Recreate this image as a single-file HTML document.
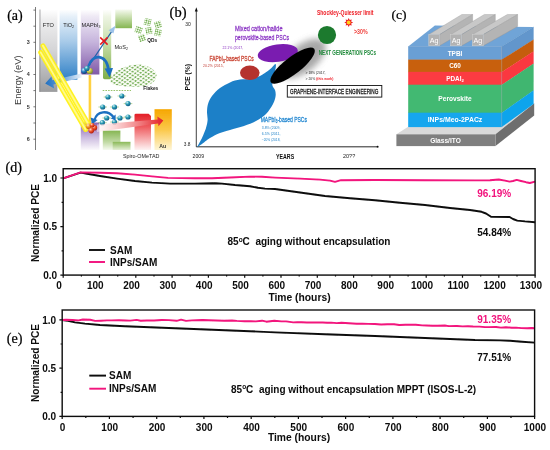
<!DOCTYPE html>
<html lang="en"><head><meta charset="utf-8"><title>Figure</title>
<style>
html,body{margin:0;padding:0;background:#fff;}
body{width:550px;height:450px;overflow:hidden;}
svg{display:block;}
text{font-family:"Liberation Sans",sans-serif;}
.ser{stroke:#000;stroke-width:0.22px;}
.ser{font-family:"Liberation Serif",serif;}
.b{font-weight:bold;}
</style></head><body>
<svg width="550" height="450" viewBox="0 0 550 450">
<defs>
<linearGradient id="gFTO" x1="0" y1="0" x2="0" y2="1"><stop offset="0" stop-color="#ffffff"/><stop offset="0.12" stop-color="#efeff0"/><stop offset="0.5" stop-color="#d4d4d6"/><stop offset="1" stop-color="#9b9c9e"/></linearGradient>
<linearGradient id="gTiO" x1="0" y1="0" x2="0" y2="1"><stop offset="0" stop-color="#ffffff"/><stop offset="0.1" stop-color="#e6f0f9"/><stop offset="0.45" stop-color="#a9cbe9"/><stop offset="1" stop-color="#2f80c6"/></linearGradient>
<linearGradient id="gMA" x1="0" y1="0" x2="0" y2="1"><stop offset="0" stop-color="#ffffff"/><stop offset="0.1" stop-color="#efeaf5"/><stop offset="0.5" stop-color="#c6b4dc"/><stop offset="1" stop-color="#8059a8"/></linearGradient>
<linearGradient id="gMA2" x1="0" y1="0" x2="0" y2="1"><stop offset="0" stop-color="#8a62b2"/><stop offset="0.55" stop-color="#cdbde0"/><stop offset="1" stop-color="#fcfafd"/></linearGradient>
<linearGradient id="gMo" x1="0" y1="0" x2="0" y2="1"><stop offset="0" stop-color="#ffffff"/><stop offset="0.1" stop-color="#eef5e4"/><stop offset="0.5" stop-color="#c4dca6"/><stop offset="1" stop-color="#7fae48"/></linearGradient>
<linearGradient id="gMo2" x1="0" y1="0" x2="0" y2="1"><stop offset="0" stop-color="#f6faf0"/><stop offset="0.3" stop-color="#d4e6be"/><stop offset="1" stop-color="#86b652"/></linearGradient>
<linearGradient id="gGr" x1="0" y1="0" x2="0" y2="1"><stop offset="0" stop-color="#86b653"/><stop offset="0.6" stop-color="#c2dba6"/><stop offset="1" stop-color="#f6faf0"/></linearGradient>
<linearGradient id="gGr2" x1="0" y1="0" x2="0" y2="1"><stop offset="0" stop-color="#8ab957"/><stop offset="1" stop-color="#e6f0d8"/></linearGradient>
<linearGradient id="gRed" x1="0" y1="0" x2="0" y2="1"><stop offset="0" stop-color="#e31f26"/><stop offset="0.35" stop-color="#ee5a5e"/><stop offset="1" stop-color="#fef4f4"/></linearGradient>
<linearGradient id="gAu" x1="0" y1="0" x2="0" y2="1"><stop offset="0" stop-color="#f6a600"/><stop offset="0.5" stop-color="#fbc84a"/><stop offset="1" stop-color="#fef6d8"/></linearGradient>
<linearGradient id="gBlueArr" x1="1" y1="0" x2="0" y2="0"><stop offset="0" stop-color="#eef4fb"/><stop offset="0.5" stop-color="#6ea6dc"/><stop offset="1" stop-color="#1f6fc0"/></linearGradient>
<linearGradient id="gRedArr" x1="0" y1="0" x2="1" y2="0"><stop offset="0" stop-color="#fff6f6" stop-opacity="0.5"/><stop offset="0.5" stop-color="#f5a3a5"/><stop offset="1" stop-color="#e31f26"/></linearGradient>
<radialGradient id="sTeal" cx="0.35" cy="0.3" r="0.7"><stop offset="0" stop-color="#d8f3f6"/><stop offset="0.45" stop-color="#2fa0b8"/><stop offset="1" stop-color="#0f5d86"/></radialGradient>
<radialGradient id="sBlue" cx="0.35" cy="0.3" r="0.7"><stop offset="0" stop-color="#cfe6fa"/><stop offset="0.5" stop-color="#2a7fc4"/><stop offset="1" stop-color="#123f7a"/></radialGradient>
<radialGradient id="sYel" cx="0.35" cy="0.3" r="0.7"><stop offset="0" stop-color="#fbf8c8"/><stop offset="0.5" stop-color="#c9c64a"/><stop offset="1" stop-color="#7c8a2a"/></radialGradient>
<radialGradient id="sRed" cx="0.35" cy="0.3" r="0.7"><stop offset="0" stop-color="#ffd6c2"/><stop offset="0.5" stop-color="#f0532a"/><stop offset="1" stop-color="#b11f12"/></radialGradient>
<radialGradient id="sOr" cx="0.35" cy="0.3" r="0.7"><stop offset="0" stop-color="#ffe9c0"/><stop offset="0.5" stop-color="#f59a2a"/><stop offset="1" stop-color="#c5560f"/></radialGradient>
<filter id="blur3" x="-50%" y="-50%" width="200%" height="200%"><feGaussianBlur stdDeviation="3.2"/></filter>
<filter id="soft2" x="-2%" y="-5%" width="104%" height="110%"><feGaussianBlur stdDeviation="0.3"/></filter>
<filter id="soft" x="-5%" y="-5%" width="110%" height="110%"><feGaussianBlur stdDeviation="0.35"/></filter>
<pattern id="lat" width="3.2" height="3.2" patternUnits="userSpaceOnUse" patternTransform="rotate(32) skewX(-18)"><rect width="3.2" height="3.2" fill="#fafcf6"/><path d="M0 0H3.2M0 0V3.2" stroke="#9cc67c" stroke-width="0.6"/><circle cx="0" cy="0" r="0.78" fill="#5ba03c"/><circle cx="3.2" cy="3.2" r="0.78" fill="#5ba03c"/><circle cx="3.2" cy="0" r="0.78" fill="#5ba03c"/><circle cx="0" cy="3.2" r="0.78" fill="#5ba03c"/></pattern>
<pattern id="qd" width="2.2" height="2.2" patternUnits="userSpaceOnUse"><rect width="2.2" height="2.2" fill="#f3f9ec"/><path d="M1.1 0V2.2M0 1.1H2.2" stroke="#93c274" stroke-width="0.6"/><circle cx="1.1" cy="1.1" r="0.55" fill="#5ba03c"/></pattern>
</defs>
<rect width="550" height="450" fill="#ffffff"/>

<g id="panel-a" filter="url(#soft)">
<rect x="39.2" y="9.5" width="18.2" height="82.4" fill="url(#gFTO)"/>
<rect x="39.2" y="9.5" width="1.5" height="82.4" fill="#8d8e90" opacity="0.5"/>
<rect x="59.6" y="9.5" width="17.8" height="70.2" fill="url(#gTiO)"/>
<rect x="80.8" y="9.5" width="18.6" height="65" fill="url(#gMA)"/>
<rect x="80.8" y="122.5" width="18.6" height="27.5" fill="url(#gMA2)"/>
<path d="M103 9.5H111.2V77.6Q111.2 79.2 109.6 79.2H104.6Q103 79.2 103 77.6Z" fill="url(#gMo)"/>
<rect x="115.3" y="9.5" width="16.7" height="18.7" fill="url(#gMo2)"/>
<rect x="102.8" y="130.6" width="17.6" height="19.4" fill="url(#gGr)"/>
<rect x="112.7" y="141.8" width="17.8" height="8.2" fill="url(#gGr2)"/>
<path d="M134.5 115Q134.5 113.8 135.8 113.8H148.6L151 116V150H134.5Z" fill="url(#gRed)"/>
<rect x="154.5" y="109.2" width="17.3" height="40.8" fill="url(#gAu)"/>
<rect x="88.2" y="75" width="3.4" height="50" fill="#ffe9a0" opacity="0.7"/>
<rect x="88.9" y="75" width="2" height="50" fill="#ffcf3a"/>
<path d="M35.5 7V150" stroke="#444" stroke-width="0.7" fill="none"/>
<path d="M33.4 10.1H35.5" stroke="#444" stroke-width="0.7"/>
<path d="M33.4 26.2H35.5" stroke="#444" stroke-width="0.7"/>
<path d="M33.4 42.3H35.5" stroke="#444" stroke-width="0.7"/>
<path d="M33.4 58.4H35.5" stroke="#444" stroke-width="0.7"/>
<path d="M33.4 74.5H35.5" stroke="#444" stroke-width="0.7"/>
<path d="M33.4 90.6H35.5" stroke="#444" stroke-width="0.7"/>
<path d="M33.4 106.8H35.5" stroke="#444" stroke-width="0.7"/>
<path d="M33.4 123H35.5" stroke="#444" stroke-width="0.7"/>
<path d="M33.4 139.2H35.5" stroke="#444" stroke-width="0.7"/>
<text x="28.3" y="44.199999999999996" font-size="5.4" class="b" text-anchor="middle" fill="#333">3</text>
<text x="28.3" y="76.4" font-size="5.4" class="b" text-anchor="middle" fill="#333">4</text>
<text x="28.3" y="108.7" font-size="5.4" class="b" text-anchor="middle" fill="#333">5</text>
<text x="28.3" y="141.1" font-size="5.4" class="b" text-anchor="middle" fill="#333">6</text>
<text transform="translate(20.6 80.2) rotate(-90)" font-size="8.2" text-anchor="middle" fill="#3a3a3a" textLength="49.5" lengthAdjust="spacingAndGlyphs">Energy (eV)</text>
<text x="48.4" y="26.6" font-size="5.6" text-anchor="middle" fill="#222">FTO</text>
<text x="68.6" y="26.6" font-size="5.6" text-anchor="middle" fill="#222">TiO<tspan font-size="3.6" dy="1.2">2</tspan></text>
<text x="91" y="26.6" font-size="5.6" text-anchor="middle" fill="#222">MAPbI<tspan font-size="3.6" dy="1.2">3</tspan></text>
<text x="121.2" y="48.6" font-size="5.6" text-anchor="middle" fill="#222">MoS<tspan font-size="3.6" dy="1.2">2</tspan></text>
<text x="162.8" y="148.4" font-size="5.2" class="b" text-anchor="middle" fill="#333">Au</text>
<text x="141.2" y="158" font-size="5.8" text-anchor="middle" fill="#222" textLength="36.5" lengthAdjust="spacingAndGlyphs">Spiro-OMeTAD</text>
<path d="M81.5 73.4L81.8 77.6L53.4 84.4L54.2 88.4L45.2 83.4L51.4 76.4L52.2 80.2Z" fill="url(#gBlueArr)"/>
<path d="M42.9 45.8L90.6 128" stroke="#fff21a" stroke-width="5" stroke-linecap="round" opacity="0.95"/>
<path d="M40.7 52.4L85.6 129.5" stroke="#fff21a" stroke-width="5" stroke-linecap="round" opacity="0.95"/>
<path d="M42.9 45.8L90.6 128" stroke="#fff98c" stroke-width="1.8" stroke-linecap="round"/>
<path d="M40.7 52.4L85.6 129.5" stroke="#fff98c" stroke-width="1.8" stroke-linecap="round"/>
<path d="M86 70L112 31" stroke="#1f5fa8" stroke-width="1.3"/>
<path d="M115.5 25.8L108.6 30.2L113.4 33.4Z" fill="#9cc3ea"/>
<path d="M100.2 37.4L107.6 44.6M107.6 37.4L100.2 44.6" stroke="#e8161c" stroke-width="1.5"/>
<path d="M88.6 66C92 54 106 53 108.6 70" stroke="#1f6fc0" stroke-width="2.7" fill="none"/>
<path d="M104.6 68.6L113 68L109.6 77.4Z" fill="#1f6fc0"/>
<circle cx="84.2" cy="70.8" r="3.1" fill="url(#sBlue)"/><circle cx="89.8" cy="71" r="3.1" fill="url(#sYel)"/><circle cx="87" cy="68.4" r="2.6" fill="url(#sTeal)"/>
<path d="M102.7 90.5H131" stroke="#8dbb5a" stroke-width="0.9" stroke-dasharray="1.6 1.1"/>
<path d="M103.7 97H112.3" stroke="#8dbb5a" stroke-width="0.6"/><circle cx="108" cy="97" r="2.6" fill="url(#sTeal)"/>
<path d="M117.5 96H126.1" stroke="#8dbb5a" stroke-width="0.6"/><circle cx="121.8" cy="96" r="2.6" fill="url(#sTeal)"/>
<path d="M98.4 107H107.0" stroke="#8dbb5a" stroke-width="0.6"/><circle cx="102.7" cy="107" r="2.6" fill="url(#sTeal)"/>
<path d="M110.2 107H118.8" stroke="#8dbb5a" stroke-width="0.6"/><circle cx="114.5" cy="107" r="2.6" fill="url(#sTeal)"/>
<path d="M123.7 103.6H132.3" stroke="#8dbb5a" stroke-width="0.6"/><circle cx="128" cy="103.6" r="2.6" fill="url(#sTeal)"/>
<path d="M102.4 118H111.0" stroke="#8dbb5a" stroke-width="0.6"/><circle cx="106.7" cy="118" r="2.6" fill="url(#sTeal)"/>
<path d="M115.7 118H124.3" stroke="#8dbb5a" stroke-width="0.6"/><circle cx="120" cy="118" r="2.6" fill="url(#sTeal)"/>
<path d="M123.7 117H132.3" stroke="#8dbb5a" stroke-width="0.6"/><circle cx="128" cy="117" r="2.6" fill="url(#sTeal)"/>
<path d="M98.10000000000001 122.7H106.7" stroke="#8dbb5a" stroke-width="0.6"/><circle cx="102.4" cy="122.7" r="2.6" fill="url(#sTeal)"/>
<path d="M110.2 122H118.8" stroke="#8dbb5a" stroke-width="0.6"/><circle cx="114.5" cy="122" r="2.6" fill="url(#sTeal)"/>
<path d="M94.5 120C97 110.5 108 110 113.5 117" stroke="#1f6fc0" stroke-width="2.3" fill="none"/>
<path d="M90.6 117.6L92 124.6L97.6 120Z" fill="#1f6fc0"/><path d="M110.8 118.6L115.6 114.4L115.6 120.6Z" fill="#1f6fc0"/>
<path d="M97 124.5L157.6 119.4L157.3 116.4L163.3 120.6L158.5 126.2L158.1 123.4L97 132Z" fill="url(#gRedArr)"/>
<circle cx="88.7" cy="126.2" r="2.8" fill="url(#sOr)"/><circle cx="94.4" cy="127.8" r="2.8" fill="url(#sRed)"/><circle cx="91.3" cy="130.6" r="2.8" fill="url(#sRed)"/><circle cx="92.2" cy="125.2" r="2.3" fill="url(#sRed)"/>
<path d="M110.4 80.4C110.8 76 116 71 122 68C128 65.2 136 63.6 142 64.8C149 66.2 156 70 156.5 75C157 80 152 84.4 146 85.8C138 87.4 125 87 118 85.6C113 84.6 110 83.4 110.4 80.4Z" fill="url(#lat)"/>
<text x="150.8" y="89.9" font-size="4.8" class="b" text-anchor="middle" fill="#222">Flakes</text>
<rect x="144.29999999999998" y="18.7" width="6.6" height="6.6" fill="url(#qd)" transform="rotate(14 147.6 22)"/>
<rect x="154.7" y="21.3" width="6.6" height="6.6" fill="url(#qd)" transform="rotate(-18 158 24.6)"/>
<rect x="135.29999999999998" y="26.7" width="6.6" height="6.6" fill="url(#qd)" transform="rotate(20 138.6 30)"/>
<rect x="145.7" y="27.3" width="6.6" height="6.6" fill="url(#qd)" transform="rotate(-12 149 30.6)"/>
<rect x="154.7" y="29.3" width="6.6" height="6.6" fill="url(#qd)" transform="rotate(12 158 32.6)"/>
<rect x="138.7" y="34.7" width="6.6" height="6.6" fill="url(#qd)" transform="rotate(-20 142 38)"/>
<text x="152.2" y="41.8" font-size="4.8" class="b" text-anchor="middle" fill="#222">QDs</text>
</g>
<text class="ser" x="7.2" y="19.6" font-size="14">(a)</text>
<g id="panel-b" filter="url(#soft)">
<path d="M196.3 146.8V10" stroke="#111" stroke-width="0.8" fill="none"/><path d="M196.3 7.2L194.8 11.4H197.8Z" fill="#111"/>
<path d="M196.3 146.8H377" stroke="#111" stroke-width="0.9" fill="none"/><circle cx="377.6" cy="146.8" r="1" fill="#111"/>
<path d="M197 147.2L202.0 138.0C202.7 136.3 205.1 131.0 206.0 128.0C206.9 125.0 207.4 122.7 207.6 120.0C207.8 117.3 206.9 114.7 207.0 112.0C207.1 109.3 207.2 106.7 208.0 104.0C208.8 101.3 210.0 98.7 212.0 96.0C214.0 93.3 217.0 90.3 220.0 88.0C223.0 85.7 226.7 83.8 230.0 82.4C233.3 81.0 236.7 80.2 240.0 79.6C243.3 79.0 246.7 79.6 250.0 79.0C253.3 78.4 256.7 77.6 260.0 76.0C263.3 74.4 267.4 71.2 270.0 69.2C272.6 67.2 274.8 63.5 275.6 64.0C276.4 64.5 275.6 68.7 275.0 72.0C274.4 75.3 272.2 81.0 272.2 84.0C272.2 87.0 274.4 88.0 275.0 90.0C275.6 92.0 275.9 93.7 275.6 96.0C275.3 98.3 274.6 101.0 273.0 104.0C271.4 107.0 268.8 111.2 266.0 114.0C263.2 116.8 259.7 119.0 256.0 121.0C252.3 123.0 248.3 124.5 244.0 126.0C239.7 127.5 234.0 128.8 230.0 130.0C226.0 131.2 223.3 131.7 220.0 133.0C216.7 134.3 213.0 136.2 210.0 138.0C207.0 139.8 203.3 143.0 202.0 144.0Z" fill="#1f80c8"/>
<ellipse cx="303" cy="58.5" rx="27" ry="13.5" transform="rotate(-38 303 58.5)" fill="#8a8a8a" opacity="0.75" filter="url(#blur3)"/>
<ellipse cx="277.8" cy="53.2" rx="20.2" ry="8.7" transform="rotate(-8 277.8 53.2)" fill="#7a1fb0"/>
<ellipse cx="249.8" cy="72.8" rx="9.8" ry="7.2" fill="#b5322f"/>
<ellipse cx="292.6" cy="65.6" rx="27.4" ry="8.5" transform="rotate(-37.8 292.6 65.6)" fill="#050505"/>
<circle cx="327" cy="35" r="9.1" fill="#1b7a2e"/>
<polygon points="353.1,22.5 351.1,23.5 351.8,25.6 349.7,24.9 348.7,26.9 347.7,24.9 345.6,25.6 346.3,23.5 344.3,22.5 346.3,21.5 345.6,19.4 347.7,20.1 348.7,18.1 349.7,20.1 351.8,19.4 351.1,21.5" fill="#ee1c24"/><circle cx="348.7" cy="22.5" r="1.9" fill="#ffd21f"/>
<text x="317" y="15" font-size="7.6" class="b" fill="#ee1c24" text-anchor="start" textLength="56.5" lengthAdjust="spacingAndGlyphs">Shockley-Quiesser limit</text>
<text x="354" y="33.6" font-size="7.4" class="b" fill="#f0433f" text-anchor="start" textLength="13.7" lengthAdjust="spacingAndGlyphs">&gt;30%</text>
<text x="318.8" y="54.6" font-size="7.4" class="b" fill="#1f8a3a" text-anchor="start" textLength="57.2" lengthAdjust="spacingAndGlyphs">NEXT GENERATION PSCs</text>
<text x="235" y="31" font-size="7.8" fill="#8a35c4" text-anchor="start" textLength="47.5" lengthAdjust="spacingAndGlyphs" stroke="#8a35c4" stroke-width="0.28">Mixed cation/halide</text>
<text x="235" y="40.2" font-size="7.8" fill="#8a35c4" text-anchor="start" textLength="54" lengthAdjust="spacingAndGlyphs" stroke="#8a35c4" stroke-width="0.28">perovskite-based PSCs</text>
<text x="222.5" y="48.7" font-size="3.6" fill="#8a2fc0" text-anchor="start" textLength="20.8" lengthAdjust="spacingAndGlyphs">22.1% (2017,</text>
<text x="209.5" y="61.4" font-size="7.8" fill="#c8402f" text-anchor="start" textLength="44.2" lengthAdjust="spacingAndGlyphs" stroke="#c8402f" stroke-width="0.28">FAPbI<tspan font-size="4.6" dy="1.3">3</tspan><tspan dy="-1.3">-based PSCs</tspan></text>
<text x="203" y="67.3" font-size="3.6" fill="#c0392f" text-anchor="start" textLength="20.6" lengthAdjust="spacingAndGlyphs">20.2% (2015,</text>
<text x="305.5" y="74" font-size="3.8" fill="#222" text-anchor="start" textLength="20" lengthAdjust="spacingAndGlyphs">&gt; 18% (2017,</text>
<text x="305.5" y="80.3" font-size="3.8" fill="#222" text-anchor="start" textLength="27.8" lengthAdjust="spacingAndGlyphs">&gt; 20% <tspan fill="#ee1c24" font-weight="bold">(this work)</tspan></text>
<rect x="287.3" y="85.5" width="94.5" height="11.6" fill="#fff" stroke="#111" stroke-width="0.9"/>
<text x="290" y="94" font-size="7.6" fill="#111" text-anchor="start" textLength="88.4" lengthAdjust="spacingAndGlyphs" stroke="#111" stroke-width="0.28">GRAPHENE-INTERFACE ENGINEERING</text>
<text x="260.7" y="121.8" font-size="7.8" fill="#2186d0" text-anchor="start" textLength="46.3" lengthAdjust="spacingAndGlyphs" stroke="#2186d0" stroke-width="0.28">MAPbI<tspan font-size="4.6" dy="1.3">3</tspan><tspan dy="-1.3">-based PSCs</tspan></text>
<text x="261.8" y="129" font-size="3.6" fill="#1f80c8" text-anchor="start" textLength="18.6" lengthAdjust="spacingAndGlyphs">3.8% (2009,</text>
<text x="261.8" y="135" font-size="3.6" fill="#1f80c8" text-anchor="start" textLength="18.6" lengthAdjust="spacingAndGlyphs">6.5% (2011,</text>
<text x="261.8" y="141" font-size="3.6" fill="#1f80c8" text-anchor="start" textLength="18.6" lengthAdjust="spacingAndGlyphs">~20% (2018,</text>
<text x="185.2" y="26.3" font-size="6.2" fill="#222" text-anchor="start" textLength="5.6" lengthAdjust="spacingAndGlyphs">30</text>
<text x="183.8" y="146.3" font-size="6.2" fill="#222" text-anchor="start" textLength="6.6" lengthAdjust="spacingAndGlyphs">3.8</text>
<text x="192.6" y="157.6" font-size="6.2" fill="#222" text-anchor="start" textLength="11.5" lengthAdjust="spacingAndGlyphs">2009</text>
<text x="276" y="159.4" font-size="6.6" class="b" fill="#111" text-anchor="start" textLength="18.2" lengthAdjust="spacingAndGlyphs">YEARS</text>
<text x="343" y="158.2" font-size="6.2" fill="#222" text-anchor="start" textLength="12.2" lengthAdjust="spacingAndGlyphs">20??</text>
<text transform="translate(190.4 77.2) rotate(-90)" font-size="6.4" class="b" text-anchor="middle" fill="#111" textLength="26.4" lengthAdjust="spacingAndGlyphs">PCE (%)</text>
</g>
<text class="ser" x="169.6" y="17.4" font-size="14.5">(b)</text>
<g id="panel-c" filter="url(#soft)">
<path d="M396.4 134.3L408.2 126.8H501.8L533.6 103.7L495.5 134.3Z" fill="#d9d9d9"/>
<path d="M495.5 134.3L534.2 103.3V115.4L495.5 146.1Z" fill="#6e6e6e"/>
<rect x="396.4" y="134.3" width="99.1" height="11.8" fill="#7f7f7f"/>
<rect x="408.2" y="46.6" width="93.60000000000002" height="13.3" fill="#6a9fd4"/>
<path d="M501.8 46.6L533.6 27.1V39.8L501.8 59.9Z" fill="#6296cc"/>
<rect x="408.2" y="59.6" width="93.60000000000002" height="12.600000000000005" fill="#c8600f"/>
<path d="M501.8 59.6L533.6 39.5V51.6L501.8 72.2Z" fill="#c55d0e"/>
<rect x="408.2" y="71.9" width="93.60000000000002" height="13.099999999999998" fill="#fc3b43"/>
<path d="M501.8 71.9L533.6 51.3V63.8L501.8 85.0Z" fill="#fa3941"/>
<rect x="408.2" y="84.7" width="93.60000000000002" height="28.3" fill="#42b972"/>
<path d="M501.8 84.7L533.6 63.5V90.5L501.8 113.0Z" fill="#40b670"/>
<rect x="408.2" y="112.7" width="93.60000000000002" height="14.399999999999995" fill="#12a6ee"/>
<path d="M501.8 112.7L533.6 90.2V104.0L501.8 127.1Z" fill="#10a4ec"/>
<path d="M408.2 46.6L434.9 25.6L533.6 27.1L501.8 46.6Z" fill="#70a4d7"/>
<path d="M501.8 46.6V126.8" stroke="#8a8f94" stroke-width="0.5" opacity="0.7"/>
<path d="M408.2 46.6H501.8L533.6 27.1" stroke="#4d86bd" stroke-width="0.5" fill="none" opacity="0.8"/>
<path d="M428.8 34.6L461.8 14.5H472.6L439.6 34.6Z" fill="#c8c8c8" stroke="#9a9a9a" stroke-width="0.35"/>
<path d="M439.6 34.6L472.6 14.5V26.5L439.6 45.8Z" fill="#b4b4b4" stroke="#909090" stroke-width="0.35"/>
<rect x="428.8" y="34.6" width="10.800000000000011" height="11.2" fill="#b2b2b2" stroke="#d2d2d2" stroke-width="0.5"/>
<text x="434.20000000000005" y="43.2" font-size="7.2" text-anchor="middle" fill="#ffffff">Ag</text>
<path d="M450.6 34.6L484.3 14.5H495.3L461.6 34.6Z" fill="#c8c8c8" stroke="#9a9a9a" stroke-width="0.35"/>
<path d="M461.6 34.6L495.3 14.5V26.5L461.6 45.8Z" fill="#b4b4b4" stroke="#909090" stroke-width="0.35"/>
<rect x="450.6" y="34.6" width="11.0" height="11.2" fill="#b2b2b2" stroke="#d2d2d2" stroke-width="0.5"/>
<text x="456.1" y="43.2" font-size="7.2" text-anchor="middle" fill="#ffffff">Ag</text>
<path d="M472.3 34.6L507.3 14.5H517.6L483.3 34.6Z" fill="#c8c8c8" stroke="#9a9a9a" stroke-width="0.35"/>
<path d="M483.3 34.6L517.6 14.5V26.5L483.3 45.8Z" fill="#b4b4b4" stroke="#909090" stroke-width="0.35"/>
<rect x="472.3" y="34.6" width="11.0" height="11.2" fill="#b2b2b2" stroke="#d2d2d2" stroke-width="0.5"/>
<text x="477.8" y="43.2" font-size="7.2" text-anchor="middle" fill="#ffffff">Ag</text>
<text x="455" y="55.6" font-size="6.4" class="b" fill="#fff" text-anchor="middle">TPBI</text>
<text x="455" y="68.2" font-size="6.4" class="b" fill="#fff" text-anchor="middle">C60</text>
<text x="455" y="80.8" font-size="6.4" class="b" fill="#fff" text-anchor="middle">PDAI<tspan font-size="4.2" dy="1.2">2</tspan></text>
<text x="455" y="101.4" font-size="6.6" class="b" fill="#fff" text-anchor="middle">Perovskite</text>
<text x="455" y="121.8" font-size="6.9" class="b" fill="#fff" text-anchor="middle">INPs/Meo-2PACz</text>
<text x="445.5" y="143" font-size="6.6" class="b" fill="#fff" text-anchor="middle">Glass/ITO</text>
</g>
<text class="ser" x="391.6" y="19.2" font-size="13.5">(c)</text>
<g id="panel-d" filter="url(#soft2)">
<path d="M63.2 178.3L80.5 172.6L90.0 174.3L100.0 176.0L117.0 178.6L135.0 181.0L152.0 182.6L170.0 183.6L195.0 183.6L215.0 183.2L222.0 183.6L235.0 185.0L250.0 186.2L258.0 187.8L265.0 188.6L275.0 189.0L300.0 192.5L325.0 196.0L350.0 198.2L375.0 200.3L400.0 202.7L425.0 205.0L450.0 208.0L470.0 210.0L481.6 211.8L486.0 213.5L491.0 216.8L509.6 217.0L513.0 219.0L517.3 220.6L525.0 221.4L535.1 222.2" stroke="#0a0a0a" stroke-width="1.9" fill="none" stroke-linejoin="round"/>
<path d="M63.2 178.3L80.5 172.4L100.0 172.7L117.0 173.2L135.0 174.6L152.0 176.4L168.0 177.9L195.0 178.2L212.0 178.2L230.0 177.5L250.0 176.6L262.0 176.8L275.0 177.6L300.0 178.6L320.0 179.6L330.0 180.6L335.0 181.8L341.0 180.2L375.0 180.0L425.0 180.3L475.0 180.4L490.0 180.2L498.7 179.5L505.0 180.6L509.6 181.6L513.0 181.0L516.7 179.9L521.0 181.0L526.0 182.2L529.8 183.0L535.1 181.7" stroke="#f2127c" stroke-width="1.9" fill="none" stroke-linejoin="round"/>
<rect x="63.2" y="168.7" width="471.90000000000003" height="106.40000000000003" fill="none" stroke="#0a0a0a" stroke-width="1.4"/>
<path d="M63.2 275.1V277.70000000000005M81.4 275.1V276.6M99.5 275.1V277.70000000000005M117.7 275.1V276.6M135.8 275.1V277.70000000000005M154.0 275.1V276.6M172.1 275.1V277.70000000000005M190.2 275.1V276.6M208.4 275.1V277.70000000000005M226.6 275.1V276.6M244.7 275.1V277.70000000000005M262.9 275.1V276.6M281.0 275.1V277.70000000000005M299.2 275.1V276.6M317.3 275.1V277.70000000000005M335.5 275.1V276.6M353.6 275.1V277.70000000000005M371.8 275.1V276.6M389.9 275.1V277.70000000000005M408.1 275.1V276.6M426.2 275.1V277.70000000000005M444.4 275.1V276.6M462.5 275.1V277.70000000000005M480.7 275.1V276.6M498.8 275.1V277.70000000000005M517.0 275.1V276.6M535.1 275.1V277.70000000000005M63.2 275.1H60.400000000000006M63.2 226.6H60.400000000000006M63.2 178.0H60.400000000000006M63.2 250.8H61.6M63.2 202.3H61.6" stroke="#0a0a0a" stroke-width="1.2" fill="none"/>
<text x="59.0" y="288.70000000000005" font-size="10" class="b" text-anchor="middle" fill="#0a0a0a">0</text>
<text x="95.3" y="288.70000000000005" font-size="10" class="b" text-anchor="middle" fill="#0a0a0a">100</text>
<text x="131.6" y="288.70000000000005" font-size="10" class="b" text-anchor="middle" fill="#0a0a0a">200</text>
<text x="167.9" y="288.70000000000005" font-size="10" class="b" text-anchor="middle" fill="#0a0a0a">300</text>
<text x="204.2" y="288.70000000000005" font-size="10" class="b" text-anchor="middle" fill="#0a0a0a">400</text>
<text x="240.5" y="288.70000000000005" font-size="10" class="b" text-anchor="middle" fill="#0a0a0a">500</text>
<text x="276.8" y="288.70000000000005" font-size="10" class="b" text-anchor="middle" fill="#0a0a0a">600</text>
<text x="313.1" y="288.70000000000005" font-size="10" class="b" text-anchor="middle" fill="#0a0a0a">700</text>
<text x="349.4" y="288.70000000000005" font-size="10" class="b" text-anchor="middle" fill="#0a0a0a">800</text>
<text x="385.7" y="288.70000000000005" font-size="10" class="b" text-anchor="middle" fill="#0a0a0a">900</text>
<text x="422.0" y="288.70000000000005" font-size="10" class="b" text-anchor="middle" fill="#0a0a0a">1000</text>
<text x="458.3" y="288.70000000000005" font-size="10" class="b" text-anchor="middle" fill="#0a0a0a">1100</text>
<text x="494.6" y="288.70000000000005" font-size="10" class="b" text-anchor="middle" fill="#0a0a0a">1200</text>
<text x="530.9" y="288.70000000000005" font-size="10" class="b" text-anchor="middle" fill="#0a0a0a">1300</text>
<text x="57.2" y="181.6" font-size="10" class="b" text-anchor="end" fill="#0a0a0a">1.0</text>
<text x="57.2" y="230.2" font-size="10" class="b" text-anchor="end" fill="#0a0a0a">0.5</text>
<text x="57.2" y="278.7" font-size="10" class="b" text-anchor="end" fill="#0a0a0a">0.0</text>
<text x="227.5" y="245" font-size="10" class="b" fill="#0a0a0a" style="white-space:pre">85<tspan font-size="6.5" dy="-3.2">o</tspan><tspan dy="3.2">C  aging without encapsulation</tspan></text>
<text x="494.2" y="197" font-size="10" class="b" text-anchor="middle" fill="#f2127c">96.19%</text>
<text x="494.2" y="236" font-size="10" class="b" text-anchor="middle" fill="#0a0a0a">54.84%</text>
<path d="M89 250H105" stroke="#0a0a0a" stroke-width="1.9"/><path d="M89 262H105" stroke="#f2127c" stroke-width="1.9"/>
<text x="110" y="253.6" font-size="10" class="b" fill="#0a0a0a">SAM</text>
<text x="110" y="265.6" font-size="10" class="b" fill="#0a0a0a">INPs/SAM</text>
<text x="299.5" y="301" font-size="10.3" class="b" text-anchor="middle" fill="#0a0a0a">Time (hours)</text>
<text transform="translate(38.9 223) rotate(-90)" font-size="10.1" class="b" text-anchor="middle" fill="#0a0a0a">Normalized PCE</text>
</g>
<text class="ser" x="5.6" y="172.4" font-size="14">(d)</text>
<g id="panel-e" filter="url(#soft2)">
<path d="M62.2 320.0L68.0 320.8L75.0 322.4L85.0 323.6L100.0 325.0L125.0 326.2L150.0 327.2L175.0 328.2L200.0 329.2L225.0 330.2L250.0 331.2L275.0 332.4L325.0 334.2L375.0 336.0L425.0 338.0L475.0 340.0L500.0 340.4L510.0 340.8L522.0 341.8L534.6 342.6" stroke="#0a0a0a" stroke-width="1.9" fill="none" stroke-linejoin="round"/>
<path d="M62.2 320.0L66.0 319.8L72.2 320.0L78.6 320.4L82.9 319.5L90.2 319.8L95.1 320.9L101.0 320.7L106.9 320.4L111.5 320.4L119.0 320.2L126.0 320.5L130.2 320.6L136.6 319.9L140.7 320.7L146.6 320.5L154.1 320.5L161.8 320.0L169.0 320.1L176.7 320.8L181.1 319.7L186.0 320.9L191.8 320.4L197.0 320.2L202.5 320.0L208.8 320.3L216.5 320.5L224.2 320.7L232.1 320.5L236.8 320.9L244.6 321.2L250.9 321.1L255.8 321.4L262.1 320.7L266.3 321.7L274.3 320.7L281.5 321.4L286.1 321.4L293.2 322.4L297.3 322.1L301.5 322.3L306.8 322.5L314.8 322.4L322.8 322.5L327.1 322.8L331.2 322.6L336.8 323.1L341.4 322.8L348.9 323.2L356.7 323.8L362.3 323.6L368.3 323.9L374.7 324.0L381.2 324.5L387.2 324.3L394.1 324.3L399.3 325.0L405.4 324.8L409.4 324.8L415.8 324.7L422.2 325.4L426.5 325.5L432.3 325.7L437.7 325.8L444.7 325.5L448.9 326.1L456.8 326.0L462.6 326.4L467.9 326.3L473.1 326.5L479.5 326.6L485.0 327.1L489.1 327.1L496.1 327.0L501.0 327.6L505.9 327.2L511.7 327.8L516.1 327.6L521.4 328.1L527.2 328.3L531.8 328.0L534.6 328.2" stroke="#f2127c" stroke-width="1.9" fill="none" stroke-linejoin="round"/>
<rect x="62.2" y="310" width="472.40000000000003" height="106.39999999999998" fill="none" stroke="#0a0a0a" stroke-width="1.4"/>
<path d="M62.2 416.4V419.0M85.8 416.4V417.9M109.4 416.4V419.0M133.1 416.4V417.9M156.7 416.4V419.0M180.3 416.4V417.9M203.9 416.4V419.0M227.5 416.4V417.9M251.2 416.4V419.0M274.8 416.4V417.9M298.4 416.4V419.0M322.0 416.4V417.9M345.6 416.4V419.0M369.3 416.4V417.9M392.9 416.4V419.0M416.5 416.4V417.9M440.1 416.4V419.0M463.7 416.4V417.9M487.4 416.4V419.0M511.0 416.4V417.9M534.6 416.4V419.0M62.2 416.4H59.400000000000006M62.2 368.1H59.400000000000006M62.2 319.9H59.400000000000006M62.2 392.3H60.6M62.2 344.0H60.6" stroke="#0a0a0a" stroke-width="1.2" fill="none"/>
<text x="62.5" y="430.59999999999997" font-size="10" class="b" text-anchor="middle" fill="#0a0a0a">0</text>
<text x="109.7" y="430.59999999999997" font-size="10" class="b" text-anchor="middle" fill="#0a0a0a">100</text>
<text x="157.0" y="430.59999999999997" font-size="10" class="b" text-anchor="middle" fill="#0a0a0a">200</text>
<text x="204.2" y="430.59999999999997" font-size="10" class="b" text-anchor="middle" fill="#0a0a0a">300</text>
<text x="251.5" y="430.59999999999997" font-size="10" class="b" text-anchor="middle" fill="#0a0a0a">400</text>
<text x="298.7" y="430.59999999999997" font-size="10" class="b" text-anchor="middle" fill="#0a0a0a">500</text>
<text x="345.9" y="430.59999999999997" font-size="10" class="b" text-anchor="middle" fill="#0a0a0a">600</text>
<text x="393.2" y="430.59999999999997" font-size="10" class="b" text-anchor="middle" fill="#0a0a0a">700</text>
<text x="440.4" y="430.59999999999997" font-size="10" class="b" text-anchor="middle" fill="#0a0a0a">800</text>
<text x="487.7" y="430.59999999999997" font-size="10" class="b" text-anchor="middle" fill="#0a0a0a">900</text>
<text x="534.9" y="430.59999999999997" font-size="10" class="b" text-anchor="middle" fill="#0a0a0a">1000</text>
<text x="56.2" y="323.5" font-size="10" class="b" text-anchor="end" fill="#0a0a0a">1.0</text>
<text x="56.2" y="371.8" font-size="10" class="b" text-anchor="end" fill="#0a0a0a">0.5</text>
<text x="56.2" y="420.0" font-size="10" class="b" text-anchor="end" fill="#0a0a0a">0.0</text>
<text x="231" y="392.6" font-size="10" class="b" fill="#0a0a0a" style="white-space:pre">85<tspan font-size="6.5" dy="-3.2">o</tspan><tspan dy="3.2">C  aging without encapsulation MPPT (ISOS-L-2)</tspan></text>
<text x="494.2" y="322.6" font-size="10" class="b" text-anchor="middle" fill="#f2127c">91.35%</text>
<text x="494.2" y="361" font-size="10" class="b" text-anchor="middle" fill="#0a0a0a">77.51%</text>
<path d="M89.3 375.6H106" stroke="#0a0a0a" stroke-width="1.9"/><path d="M89.3 388.7H106" stroke="#f2127c" stroke-width="1.9"/>
<text x="109" y="379.2" font-size="10" class="b" fill="#0a0a0a">SAM</text>
<text x="109" y="392.3" font-size="10" class="b" fill="#0a0a0a">INPs/SAM</text>
<text x="299" y="441" font-size="10.3" class="b" text-anchor="middle" fill="#0a0a0a">Time (hours)</text>
<text transform="translate(38.9 363) rotate(-90)" font-size="10.1" class="b" text-anchor="middle" fill="#0a0a0a">Normalized PCE</text>
</g>
<text class="ser" x="6.8" y="342.5" font-size="14.2">(e)</text>
</svg>
</body></html>
